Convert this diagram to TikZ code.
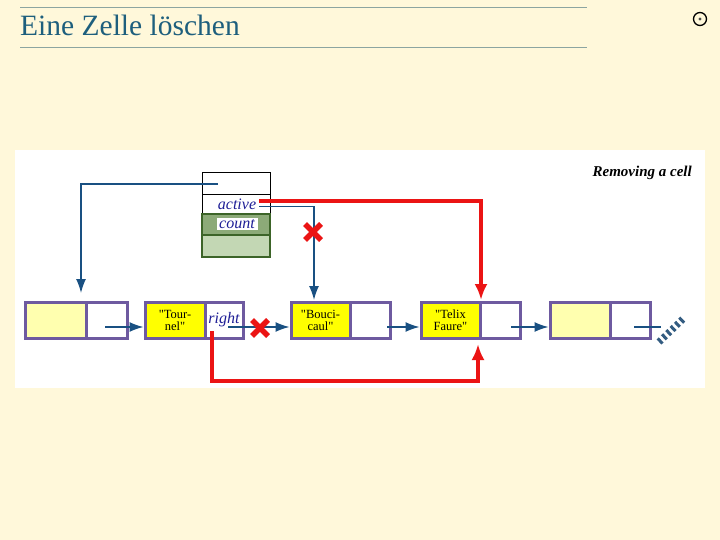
\documentclass[tikz,border=0pt]{standalone}
\usepackage{fontspec}
\setmainfont{Liberation Serif}[Ligatures=TeXOff]
\usetikzlibrary{arrows.meta}
\definecolor{bg}{RGB}{255,248,218}
\definecolor{titleblue}{RGB}{30,95,125}
\definecolor{rulecol}{RGB}{140,165,160}
\definecolor{purp}{RGB}{110,90,160}
\definecolor{yel}{RGB}{255,255,0}
\definecolor{lyel}{RGB}{255,255,175}
\definecolor{ptrblue}{RGB}{25,80,130}
\definecolor{navy}{RGB}{30,30,150}
\definecolor{dgreen}{RGB}{140,170,120}
\definecolor{lgreen}{RGB}{195,215,180}
\definecolor{gborder}{RGB}{60,100,40}
\definecolor{xred}{RGB}{235,20,20}
\tikzset{
  half/.style={draw=purp, line width=3pt, minimum height=36pt, inner sep=0pt, font=\fontsize{12.5}{12}\selectfont, align=center},
  rec/.style={minimum width=68pt, inner sep=0pt},
  ptr/.style={draw=ptrblue, line width=1.5pt, -{Latex[length=14pt,width=10pt]}},
  redptr/.style={draw=xred, line width=4pt, -{Latex[length=16pt,width=13pt]}},
  xmark/.style={draw=xred, line width=5.5pt}
}
\begin{document}
\begin{tikzpicture}[x=1pt,y=-1pt]
\fill[bg] (0,0) rectangle (720,540);
\useasboundingbox (0,0) rectangle (720,540);
% header
\draw[rulecol, line width=0.8pt] (20,7) -- (587,7);
\draw[rulecol, line width=0.8pt] (20,47) -- (587,47);
\node[anchor=base west, inner sep=0pt, text=titleblue, font=\fontsize{29.5}{32}\selectfont] (title) at (20,36) {Eine Zelle löschen};
\node[circle, draw=black, line width=1.3pt, minimum size=13pt, inner sep=0pt] (icon) at (700,19) {};
\fill[black!70] (icon.center) circle (1.6pt);
% panel
\fill[white] (15,150) rectangle (705,388);
\node[anchor=base east, inner sep=0pt, font=\fontsize{15}{18}\selectfont\bfseries\itshape] (caption) at (692,177) {Removing a cell};
% record
\node[rec, draw=black, line width=0.8pt, minimum height=22pt, fill=white] (r0) at (236,183) {};
\node[rec, draw=black, line width=0.8pt, minimum height=20pt, fill=white, text=navy, font=\fontsize{16}{16}\selectfont\itshape] (r1) at (236,204) {\hspace*{2pt}active};
\node[rec, draw=gborder, line width=1.2pt, minimum height=21pt, fill=dgreen] (r2) at (236,224.5) {};
\node[fill=white, inner sep=1pt, minimum width=41pt, text=navy, font=\fontsize{16}{16}\selectfont\itshape] (r2t) at (237,224) {count};
\node[rec, draw=gborder, line width=1.2pt, minimum height=22pt, fill=lgreen] (r3) at (236,246) {};
% list cells
\node[half, fill=lyel, minimum width=61pt] (c1L) at (55.5,320) {};
\node[half, fill=white, minimum width=41pt] (c1R) at (106.5,320) {};
\node[half, fill=yel, minimum width=60pt] (c2L) at (175,320) {"Tour-\\nel"};
\node[half, fill=white, minimum width=38pt, text=navy, font=\fontsize{16}{16}\selectfont\itshape] (c2R) at (224,320) {\raisebox{3pt}{right}};
\node[half, fill=yel, minimum width=59pt] (c3L) at (320.5,320) {"Bouci-\\caul"};
\node[half, fill=white, minimum width=40pt] (c3R) at (370,320) {};
\node[half, fill=yel, minimum width=59pt] (c4L) at (450.5,320) {"Telix\\Faure"};
\node[half, fill=white, minimum width=40pt] (c4R) at (500,320) {};
\node[half, fill=lyel, minimum width=60pt] (c5L) at (580,320) {};
\node[half, fill=white, minimum width=40pt] (c5R) at (630,320) {};
% pointer from head
\coordinate (h0) at (218,184);
\coordinate (h1) at (81,293);
\draw[ptr] (h0) -| (h1);
% active pointers
\coordinate (a0) at (259,201);
\coordinate (a1) at (259,206.5);
\coordinate (t3) at (314,300);
\coordinate (t4) at (481,300);
\draw[redptr] (a0) -| (t4);
\draw[ptr] (a1) -| (t3);
% next pointers
\draw[ptr] (105,327) -- (c2L.west |- 0,327);
\draw[ptr] (228,327) -- (c3L.west |- 0,327);
\draw[ptr] (387,327) -- (c4L.west |- 0,327);
\draw[ptr] (511,327) -- (c5L.west |- 0,327);
\coordinate (e5) at (661,327);
\draw[ptrblue, line width=1.5pt] (634,327) -- (e5);
\draw[ptrblue!75!gray, line width=7pt, dash pattern=on 3pt off 3pt] (659,342) -- (684,318);
% bypass red pointer
\coordinate (b0) at (212,331);
\coordinate (b1) at (478,344);
\draw[redptr] (b0) -- (212,381) -| (b1);
% crosses
\draw[xmark] (305,224) -- (321,240) (321,224) -- (305,240);
\draw[xmark] (252,320) -- (268,336) (268,320) -- (252,336);
\end{tikzpicture}
\end{document}
